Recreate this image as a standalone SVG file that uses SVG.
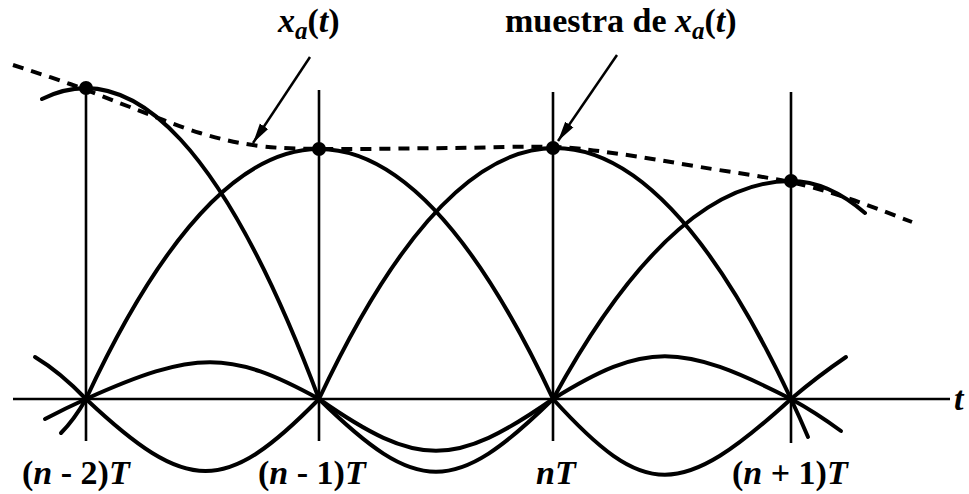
<svg xmlns="http://www.w3.org/2000/svg" width="969" height="494" viewBox="0 0 969 494">
  <style>
    .lbl { font-family: "Liberation Serif", "Times New Roman", serif; font-weight: bold; font-size: 34px; fill: #000; }
    .it { font-style: italic; }
    .curve { fill: none; stroke: #000; stroke-width: 4; stroke-linecap: round; }
    .grid { fill: none; stroke: #000; stroke-width: 2.6; }
    .dash { fill: none; stroke: #000; stroke-width: 4; stroke-dasharray: 11 8; }
    .arrow { fill: none; stroke: #000; stroke-width: 2.5; }
  </style>
  <defs>
    <marker id="head" markerUnits="userSpaceOnUse" markerWidth="22" markerHeight="12" refX="20" refY="6" orient="auto">
      <path d="M0,1 L20,6 L0,11 Z" fill="#000"/>
    </marker>
  </defs>
  <rect width="969" height="494" fill="#fff"/>

  <g id="axes">
    <line class="grid" x1="13" y1="399" x2="950" y2="399"/>
    <line class="grid" x1="86" y1="88" x2="86" y2="441"/>
    <line class="grid" x1="319" y1="90" x2="319" y2="441"/>
    <line class="grid" x1="553" y1="92" x2="553" y2="441"/>
    <line class="grid" x1="791" y1="92" x2="791" y2="443"/>
  </g>

  <g id="signal">
    <path class="dash" d="M13,65 C22.5,68.2 50.5,77 70,84 C89.5,91 108.3,98.8 130,107 C151.7,115.2 178.3,126.5 200,133 C221.7,139.5 238.3,143.3 260,146 C281.7,148.7 298.3,148.7 330,149 C361.7,149.3 412.8,148.3 450,148 C487.2,147.7 524.7,146 553,147 C581.3,148 595.5,150.7 620,154 C644.5,157.3 671.7,162.3 700,167 C728.3,171.7 765,176.7 790,182 C815,187.3 829.7,192.3 850,199 C870.3,205.7 901.7,218.2 912,222"/>
  </g>

  <g id="pulses">
    <path class="curve" d="M42,99 Q180.5,30 319,399"/>
    <path class="curve" d="M86,399 Q319,-101 553,399"/>
    <path class="curve" d="M319,399 Q555,-103 791,399"/>
    <path class="curve" d="M553,399 Q672,181 791,181 Q828,181 865,213"/>
    <path class="curve" d="M86,399 C195,350 230,350 319,399"/>
    <path class="curve" d="M86,399 C188,495 225,495 319,399"/>
    <path class="curve" d="M319,399 C418,468 454,468 553,399"/>
    <path class="curve" d="M319,399 C418,496 454,496 553,399"/>
    <path class="curve" d="M553,399 C645,342 680,342 791,399"/>
    <path class="curve" d="M553,399 C645,500 680,500 791,399"/>
    <path class="curve" d="M35,357 Q60,372 86,399"/>
    <path class="curve" d="M45,419 Q66,408 86,399"/>
    <path class="curve" d="M61,433 Q74,420 86,399"/>
    <path class="curve" d="M791,399 Q818,376 846,357"/>
    <path class="curve" d="M791,399 Q815,412 841,431"/>
    <path class="curve" d="M791,399 Q800,418 808,437"/>
  </g>

  <g id="samples">
    <circle cx="86" cy="88" r="7"/>
    <circle cx="319" cy="149" r="7"/>
    <circle cx="553" cy="148" r="7"/>
    <circle cx="791" cy="181" r="7"/>
  </g>

  <g id="connectors">
    <line class="arrow" x1="310" y1="57" x2="253" y2="143" marker-end="url(#head)"/>
    <line class="arrow" x1="617" y1="55" x2="558" y2="141" marker-end="url(#head)"/>
  </g>

  <g id="label-xa">
    <text class="lbl" x="278" y="32"><tspan class="it">x</tspan><tspan class="it" font-size="25" dy="7">a</tspan><tspan dy="-7">(</tspan><tspan class="it">t</tspan>)</text>
  </g>
  <g id="label-muestra">
    <text class="lbl" x="505" y="32">muestra de <tspan class="it">x</tspan><tspan class="it" font-size="25" dy="7">a</tspan><tspan dy="-7">(</tspan><tspan class="it">t</tspan>)</text>
  </g>
  <g id="tick-labels">
    <text class="lbl" x="22" y="484">(<tspan class="it">n</tspan> - 2)<tspan class="it">T</tspan></text>
    <text class="lbl" x="258" y="484">(<tspan class="it">n</tspan> - 1)<tspan class="it">T</tspan></text>
    <text class="lbl" x="536" y="484"><tspan class="it">n</tspan><tspan class="it">T</tspan></text>
    <text class="lbl" x="732" y="484">(<tspan class="it">n</tspan> + 1)<tspan class="it">T</tspan></text>
    <text class="lbl it" x="954" y="410">t</text>
  </g>
</svg>
